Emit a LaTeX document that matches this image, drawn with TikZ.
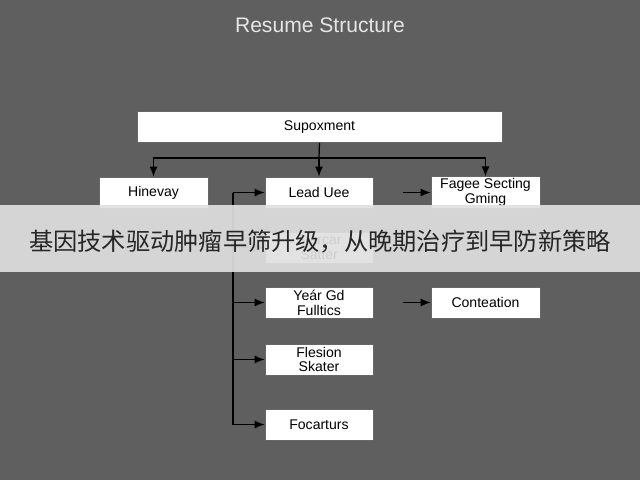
\documentclass[tikz,border=0pt]{standalone}
\usepackage{fontspec}
\setmainfont{Liberation Sans}
\newfontfamily\cjk{Noto Sans CJK SC}
\usetikzlibrary{arrows.meta}
\definecolor{sfondo}{HTML}{5F5F5F}
\tikzset{
  casella/.style={draw=black!60,fill=white,minimum height=0.62cm,align=center,font=\fontsize{8}{8.5}\selectfont,inner sep=1pt},
  freccia/.style={-{Latex[length=2mm,width=1.6mm]},line width=0.7pt}
}
\begin{document}
\begin{tikzpicture}[x=0.02cm,y=-0.02cm]
        \fill[sfondo] (0,0) rectangle (640,480);
        \useasboundingbox (0,0) rectangle (640,480);
        %%%%%%%%% Titolo %%%%%%%%%%
        \node[white!90!black,font=\fontsize{12}{13}\selectfont] (titolo) at (320,25) {Resume Structure};

        %%%%%%%%% Caselle %%%%%%%%%%
        \node[casella,minimum width=7.3cm] (radice) at (319.5,127) {Supoxment};
        \node[casella,minimum width=2.18cm] (hin) at (153.5,192.5) {Hinevay};
        \node[casella,minimum width=2.16cm] (lead) at (319,192.5) {Lead Uee};
        \node[casella,minimum width=2.16cm] (sat) at (319,247.5) {Starcar\\Satter};
        \node[casella,minimum width=2.16cm] (year) at (319,302.5) {Yeár Gd\\Fulltics};
        \node[casella,minimum width=2.16cm] (fles) at (319,359.5) {Flesion\\Skater};
        \node[casella,minimum width=2.16cm] (foca) at (319,424.5) {Focarturs};
        \node[casella,minimum width=2.18cm] (fagee) at (485.5,192.5) {Fagee Secting\\Gming};
        \node[casella,minimum width=2.18cm] (cont) at (485.5,302.5) {Conteation};

        %%%%%%%%%% Frecce %%%%%%%%%%
        \coordinate (ramo) at (319,158);
        \draw[line width=0.7pt] (radice.south) -- (ramo);
        \draw[freccia] (ramo) -| (hin.north);
        \draw[freccia] (ramo) -- (lead.north);
        \draw[freccia] (ramo) -| (fagee.north);

        \coordinate (asse) at (233,424.5);
        \draw[line width=0.7pt] (233,192.5) -- (asse);
        \foreach \n in {lead,sat,year,fles,foca}
            \draw[freccia] (233,0 |- \n.west) -- (\n.west);

        \coordinate (a1) at (403,192.5);
        \coordinate (a2) at (403,302.5);
        \draw[freccia] (a1) -- (fagee.west);
        \draw[freccia] (a2) -- (cont.west);

        %%%%%%%%% Banda %%%%%%%%%
        \fill[white!88!black,opacity=0.92] (0,205) rectangle (640,272);
        \node[font=\cjk\fontsize{13.8}{14}\selectfont,text=black!85] (banda) at (320,242) {基因技术驱动肿瘤早筛升级，从晚期治疗到早防新策略};
    \end{tikzpicture}
\end{document}
